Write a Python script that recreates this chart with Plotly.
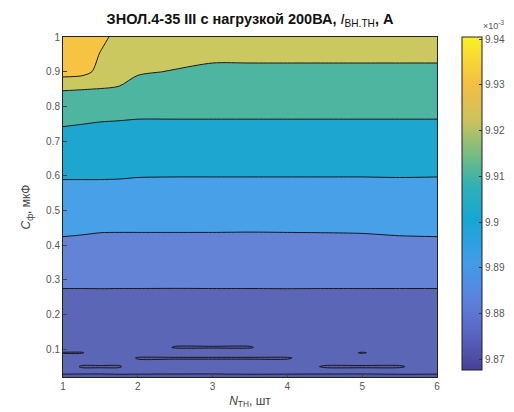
import plotly.graph_objects as go

# ---- data ----
N_TH = [1, 1.25, 1.5, 1.75, 2, 2.5, 3, 3.5, 4, 4.5, 5, 5.5, 6]
C_F = [0.02, 0.035, 0.05, 0.075, 0.09, 0.105, 0.2, 0.3, 0.4, 0.5, 0.6, 0.7, 0.8, 0.85, 0.9, 0.95, 1.0]

# I_ВН.ТН values (x10^-3 A), one row per C_F value, one column per N_TH value
I_row_0020 = [9.8690, 9.8689, 9.8690, 9.8691, 9.8690, 9.8689, 9.8690, 9.8691, 9.8690, 9.8689, 9.8690, 9.8691, 9.8690]
I_row_0035 = [9.8708, 9.8708, 9.8707, 9.8708, 9.8708, 9.8708, 9.8707, 9.8708, 9.8708, 9.8708, 9.8707, 9.8708, 9.8708]
I_row_0050 = [9.8712, 9.8698, 9.8698, 9.8698, 9.8712, 9.8712, 9.8712, 9.8712, 9.8712, 9.8698, 9.8698, 9.8698, 9.8712]
I_row_0075 = [9.8714, 9.8714, 9.8714, 9.8714, 9.8698, 9.8698, 9.8698, 9.8698, 9.8698, 9.8714, 9.8714, 9.8714, 9.8714]
I_row_0090 = [9.8698, 9.8698, 9.8716, 9.8716, 9.8716, 9.8716, 9.8716, 9.8716, 9.8716, 9.8716, 9.8698, 9.8716, 9.8716]
I_row_0105 = [9.8720, 9.8720, 9.8720, 9.8720, 9.8720, 9.8698, 9.8698, 9.8698, 9.8720, 9.8720, 9.8720, 9.8720, 9.8720]
I_row_0200 = [9.8755, 9.8755, 9.8756, 9.8755, 9.8755, 9.8754, 9.8755, 9.8755, 9.8756, 9.8755, 9.8755, 9.8755, 9.8755]
I_row_0300 = [9.8815, 9.8815, 9.8815, 9.8815, 9.8815, 9.8815, 9.8815, 9.8815, 9.8815, 9.8815, 9.8815, 9.8815, 9.8815]
I_row_0400 = [9.8886, 9.8882, 9.8876, 9.8875, 9.8875, 9.8875, 9.8875, 9.8874, 9.8875, 9.8876, 9.8878, 9.8884, 9.8886]
I_row_0500 = [9.8943, 9.8943, 9.8943, 9.8943, 9.8943, 9.8943, 9.8943, 9.8943, 9.8943, 9.8943, 9.8943, 9.8943, 9.8943]
I_row_0600 = [9.9007, 9.9007, 9.9007, 9.9006, 9.9003, 9.9002, 9.9002, 9.9002, 9.9002, 9.9002, 9.9002, 9.9003, 9.9002]
I_row_0700 = [9.9075, 9.9072, 9.9068, 9.9066, 9.9064, 9.9064, 9.9064, 9.9064, 9.9064, 9.9064, 9.9064, 9.9064, 9.9064]
I_row_0800 = [9.9135, 9.9130, 9.9126, 9.9124, 9.9121, 9.9121, 9.9121, 9.9121, 9.9121, 9.9121, 9.9121, 9.9121, 9.9121]
I_row_0850 = [9.9207, 9.9203, 9.9198, 9.9197, 9.9170, 9.9158, 9.9151, 9.9151, 9.9151, 9.9151, 9.9151, 9.9151, 9.9151]
I_row_0900 = [9.9340, 9.9330, 9.9275, 9.9215, 9.9208, 9.9196, 9.9181, 9.9181, 9.9181, 9.9181, 9.9181, 9.9181, 9.9181]
I_row_0950 = [9.9380, 9.9360, 9.9295, 9.9240, 9.9232, 9.9225, 9.9219, 9.9219, 9.9219, 9.9219, 9.9219, 9.9219, 9.9219]
I_row_1000 = [9.9405, 9.9380, 9.9325, 9.9270, 9.9260, 9.9252, 9.9245, 9.9245, 9.9245, 9.9245, 9.9245, 9.9245, 9.9245]

I_VN_TN = [I_row_0020, I_row_0035, I_row_0050, I_row_0075, I_row_0090, I_row_0105, I_row_0200,
           I_row_0300, I_row_0400, I_row_0500, I_row_0600, I_row_0700, I_row_0800, I_row_0850,
           I_row_0900, I_row_0950, I_row_1000]

LEVEL_START, LEVEL_END, LEVEL_STEP = 9.87, 9.93, 0.01
CB_MIN, CB_MAX = 9.8676, 9.9405
CB_TICKS = [9.87, 9.88, 9.89, 9.90, 9.91, 9.92, 9.93, 9.94]
CB_TICKTEXT = ["9.87", "9.88", "9.89", "9.9", "9.91", "9.92", "9.93", "9.94"]
X_TICKS = [1, 2, 3, 4, 5, 6]
Y_TICKS = [0.1, 0.2, 0.3, 0.4, 0.5, 0.6, 0.7, 0.8, 0.9, 1]

# ---- styling ----
band_colors = [
    "rgb(84,90,168)",    # below 9.87
    "rgb(92,102,182)",   # 9.87-9.88
    "rgb(100,130,214)",  # 9.88-9.89
    "rgb(72,160,232)",   # 9.89-9.90
    "rgb(28,166,208)",   # 9.90-9.91
    "rgb(78,182,160)",   # 9.91-9.92
    "rgb(204,200,96)",   # 9.92-9.93
    "rgb(246,196,66)",   # above 9.93
]
nb = len(band_colors)
step_scale = []
for k, col in enumerate(band_colors):
    lo = max(0.0, (k - 0.5) / (nb - 1))
    hi = min(1.0, (k + 0.5) / (nb - 1))
    step_scale.append([lo, col])
    step_scale.append([hi, col])

cb_scale = [
    [0.00, "rgb(70,66,150)"],
    [0.10, "rgb(88,98,192)"],
    [0.20, "rgb(92,128,218)"],
    [0.32, "rgb(66,155,232)"],
    [0.45, "rgb(22,166,212)"],
    [0.55, "rgb(45,176,182)"],
    [0.65, "rgb(120,188,130)"],
    [0.75, "rgb(204,194,92)"],
    [0.86, "rgb(245,190,66)"],
    [0.93, "rgb(248,214,52)"],
    [1.00, "rgb(250,240,40)"],
]

font_fam = "Liberation Sans, Arial, sans-serif"

fig = go.Figure()
fig.add_trace(go.Contour(
    x=N_TH, y=C_F, z=I_VN_TN,
    autocontour=False,
    contours=dict(start=LEVEL_START, end=LEVEL_END, size=LEVEL_STEP, coloring="fill"),
    colorscale=step_scale,
    line=dict(color="#1a1a1a", width=1, smoothing=0.8),
    showscale=False,
    hoverinfo="skip",
))
# continuous colorbar (as in the reference)
fig.add_trace(go.Scatter(
    x=[N_TH[0]], y=[C_F[0]], mode="markers",
    marker=dict(size=1, opacity=0, color=[CB_MIN], cmin=CB_MIN, cmax=CB_MAX,
                colorscale=cb_scale, showscale=True,
                colorbar=dict(
                    x=1.067, xanchor="left", xpad=0, ypad=0,
                    y=1.0, yanchor="top", lenmode="pixels", len=333,
                    thickness=20, outlinewidth=1, outlinecolor="#222",
                    tickvals=CB_TICKS, ticktext=CB_TICKTEXT,
                    ticks="inside", ticklen=3, tickcolor="#333",
                    tickfont=dict(size=10, color="#555", family=font_fam),
                )),
    showlegend=False, hoverinfo="skip",
))

fig.update_layout(
    width=506, height=404,
    margin=dict(l=55, r=77, t=29, b=35, autoexpand=False),
    paper_bgcolor="white", plot_bgcolor="white",
    font=dict(family=font_fam, color="#333"),
    title=dict(
        text="<b>ЗНОЛ.4-35 III с нагрузкой 200ВА, </b><i>I</i><sub>ВН.ТН</sub><b>, А</b>",
        x=0.5, xref="paper", xanchor="center", y=0.972, yanchor="middle",
        font=dict(size=14.5, color="#111", family=font_fam),
    ),
    xaxis=dict(
        range=[1, 6], tickvals=X_TICKS, ticks="inside", ticklen=4, automargin=False,
        showgrid=False, zeroline=False, showline=True, linecolor="#222", mirror=True,
        tickfont=dict(size=10, color="#555"),
        title=dict(text="<i>N</i><sub>ТН</sub>, шт", font=dict(size=12, color="#444"), standoff=5),
    ),
    yaxis=dict(
        range=[0.02, 1], tickvals=Y_TICKS, ticks="inside", ticklen=4, automargin=False,
        showgrid=False, zeroline=False, showline=True, linecolor="#222", mirror=True,
        tickfont=dict(size=10, color="#555"),
        title=dict(text="<i>C</i><sub>ф</sub>, мкФ", font=dict(size=12, color="#444"), standoff=12),
    ),
    annotations=[dict(
        text="×10<sup>-3</sup>", x=1.118, xref="paper", y=1.0, yref="paper",
        xanchor="left", yanchor="bottom", showarrow=False, yshift=4,
        font=dict(size=9, color="#555", family=font_fam),
    )],
)

fig.write_html("out.html")
